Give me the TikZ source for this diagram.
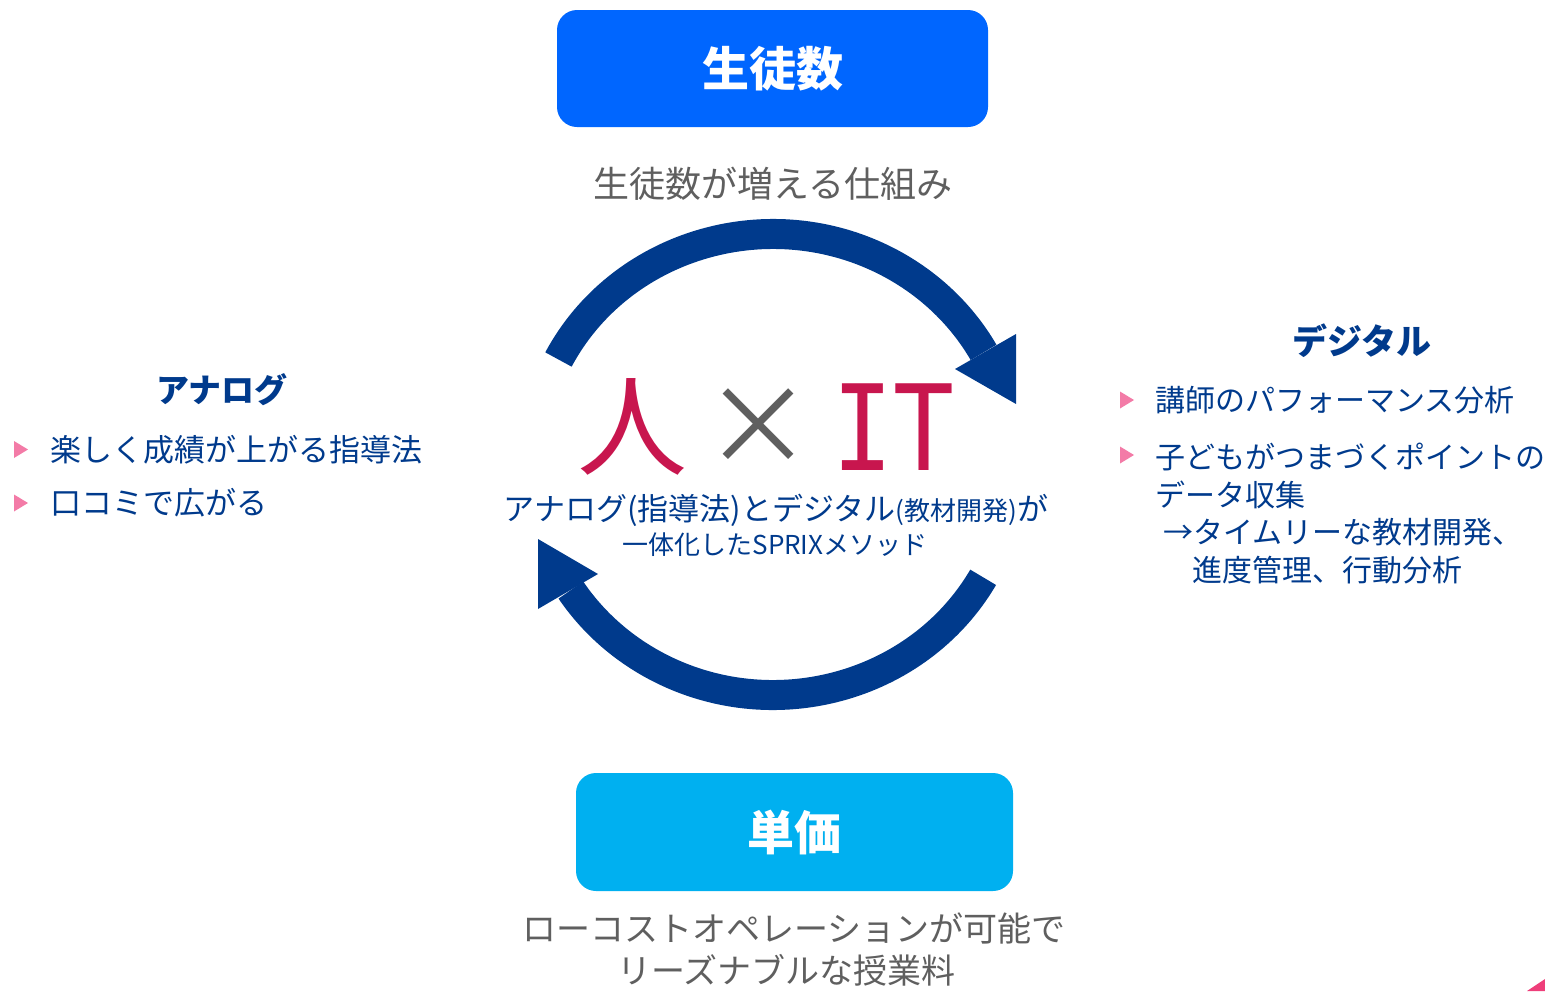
\documentclass[tikz,border=0pt]{standalone}
\usepackage{fontspec}
\setmainfont{Noto Sans CJK JP}
\newfontfamily\itfont{DejaVu Sans Mono}
\definecolor{studentblue}{HTML}{0066FF}
\definecolor{priceblue}{HTML}{00B0F0}
\definecolor{sprixnavy}{HTML}{003A8C}
\definecolor{humanred}{HTML}{C8164E}
\definecolor{notegray}{HTML}{5F5F5F}
\definecolor{markpink}{HTML}{F37BA7}
\definecolor{cornerpink}{HTML}{EE3E7A}
\newcommand{\fsz}[1]{\fontsize{#1}{#1}\selectfont}
\begin{document}
\begin{tikzpicture}[x=1pt,y=1pt,
    every node/.style={inner sep=0pt},
    keybox/.style={rounded corners=20pt, minimum width=#1, minimum height=117,
      text=white, font=\fsz{47}\bfseries},
    cyclearc/.style={draw=sprixnavy, line width=30pt},
    cyclehead/.style={fill=sprixnavy},
    pinkmark/.style={fill=markpink},
    heading/.style={text=sprixnavy, font=\bfseries},
    item/.style={text=sprixnavy, anchor=west},
    note/.style={text=notegray}]
  \useasboundingbox (0,0) rectangle (1545,-991);

  % top and bottom keys
  \node[keybox=431, fill=studentblue] (students) at (772.5,-68.5) {生徒数};
  \node[note, font=\fsz{36}] (studentsnote) at (773,-184) {生徒数が増える仕組み};
  \node[keybox=437, fill=priceblue, minimum height=118] (price) at (794.5,-832) {単価};
  \node[note, font=\fsz{34}] (pricenote1) at (794,-928) {ローコストオペレーションが可能で};
  \node[note, font=\fsz{34}] (pricenote2) at (786.5,-970) {リーズナブルな授業料};

  % cycle
  \coordinate (hub) at (773,-464.5);
  \draw[cyclearc] (hub) ++(152.9:241 and 230.5)
    arc[start angle=152.9, end angle=29.1, x radius=241, y radius=230.5];
  \fill[cyclehead] (1016,-334) -- (955,-369) -- (1016,-404) -- cycle;
  \draw[cyclearc] (hub) ++(-29.3:241 and 230.5)
    arc[start angle=-29.3, end angle=-147, x radius=241, y radius=230.5];
  \fill[cyclehead] (538,-609) -- (598,-574) -- (538,-539) -- cycle;

  % centre
  \node[text=humanred, font=\fsz{110}] (human) at (632,-427) {人};
  \node[text=notegray, font=\fsz{110}] (times) at (758,-427) {×};
  \node[text=humanred, font=\fsz{119}\itfont] (it) at (893,-427) {\scalebox{0.85}[1]{IT}};
  \node[text=sprixnavy, font=\fsz{31}] (method1) at (776,-510)
    {アナログ(指導法)とデジタル{\fsz{26}(教材開発)}が};
  \node[text=sprixnavy, font=\fsz{26}] (method2) at (775,-545) {一体化したSPRIXメソッド};

  % analog side
  \node[heading, font=\fsz{33}\bfseries] (analog) at (222,-390) {アナログ};
  \node[item, font=\fsz{31}] (analog1) at (50,-450) {楽しく成績が上がる指導法};
  \node[item, font=\fsz{31}] (analog2) at (50,-503) {口コミで広がる};

  % digital side
  \node[heading, font=\fsz{35}\bfseries] (digital) at (1362,-341) {デジタル};
  \node[item, font=\fsz{30}] (digital1) at (1155,-400) {講師のパフォーマンス分析};
  \node[item, font=\fsz{30}] (digital2) at (1155,-457) {子どもがつまづくポイントの};
  \node[item, font=\fsz{30}] (digital3) at (1155,-495) {データ収集};
  \node[item, font=\fsz{30}] (digital4) at (1163,-532) {→タイムリーな教材開発、};
  \node[item, font=\fsz{30}] (digital5) at (1192,-570) {進度管理、行動分析};

  \foreach \bx/\by in {14/449.5, 14/503, 1120/400, 1120/455}
    \fill[pinkmark] (\bx,-\by) -- ++(0,8.5) -- ++(14,-8.5) -- ++(-14,-8.5) -- cycle;

  \fill[cornerpink] (1527,-991) -- (1545,-979) -- (1545,-991) -- cycle;
\end{tikzpicture}
\end{document}
